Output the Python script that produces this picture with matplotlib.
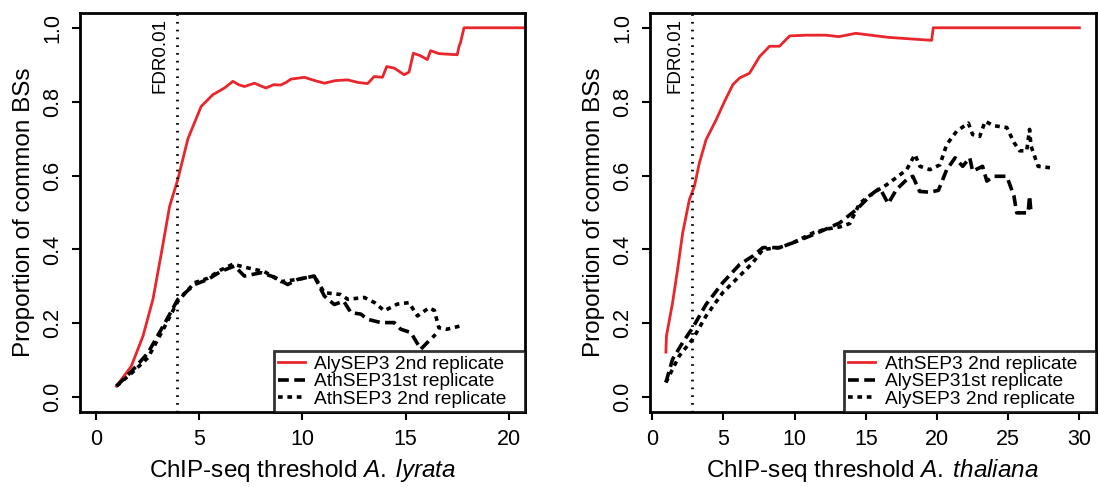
import numpy as np
import matplotlib
matplotlib.use("Agg")
import matplotlib.pyplot as plt

plt.rcParams['font.family'] = ['Liberation Sans', 'DejaVu Sans']
plt.rcParams['mathtext.fontset'] = 'custom'
plt.rcParams['mathtext.rm'] = 'Liberation Sans'
plt.rcParams['mathtext.it'] = 'Liberation Sans:italic'

# ---- left panel: threshold in A. lyrata
ly_red_x = [0.97, 1.69, 2.26, 2.74, 3.15, 3.55, 3.95, 4.44, 5.08, 5.65, 6.21, 6.62, 6.9, 7.18, 7.67,
            8.0, 8.23, 8.6, 8.94, 9.2, 9.44, 10.09, 10.6, 11.06, 11.6, 12.19, 12.7, 13.16, 13.48, 13.88,
            14.09, 14.45, 14.93, 15.17, 15.38, 15.7, 16.06, 16.22, 16.62, 17.51, 17.6, 17.67, 17.84, 21.0]
ly_red_y = [0.03, 0.084, 0.166, 0.265, 0.39, 0.517, 0.59, 0.70, 0.787, 0.819, 0.837, 0.855, 0.846, 0.841, 0.85,
            0.842, 0.837, 0.846, 0.845, 0.852, 0.861, 0.866, 0.857, 0.85, 0.857, 0.859, 0.852, 0.849, 0.868, 0.866,
            0.895, 0.891, 0.873, 0.88, 0.931, 0.925, 0.914, 0.938, 0.93, 0.927, 0.95, 0.96, 1.0, 1.0]

ly_rep1_x = [0.97, 1.7, 2.5, 3.31, 3.95, 4.76, 5.41, 6.05, 6.70, 7.18, 7.99, 8.64, 9.28, 9.77, 10.57,
             10.81, 11.06, 11.54, 12.0, 12.35, 12.83, 13.16, 13.8, 14.45, 14.77, 15.26, 15.74, 16.06, 16.46]
ly_rep1_y = [0.03, 0.07, 0.12, 0.20, 0.265, 0.305, 0.319, 0.341, 0.355, 0.328, 0.337, 0.325, 0.305, 0.319, 0.328,
             0.301, 0.274, 0.251, 0.26, 0.229, 0.225, 0.211, 0.202, 0.202, 0.184, 0.175, 0.13, 0.148, 0.17]

ly_rep2_x = [0.97, 1.7, 2.5, 3.3, 3.95, 4.76, 5.4, 6.05, 6.62, 7.35, 8.15, 8.96, 9.77, 10.57, 11.06,
             11.86, 12.2, 13.0, 13.5, 13.97, 14.6, 15.17, 15.58, 16.14, 16.4, 16.62, 17.0, 17.67]
ly_rep2_y = [0.03, 0.065, 0.107, 0.19, 0.26, 0.31, 0.322, 0.345, 0.36, 0.35, 0.34, 0.313, 0.319, 0.328, 0.283,
             0.278, 0.265, 0.27, 0.256, 0.234, 0.252, 0.256, 0.220, 0.242, 0.235, 0.188, 0.184, 0.193]

# ---- right panel: threshold in A. thaliana
th_red_x = [0.96, 1.0, 1.43, 1.78, 2.14, 2.61, 2.96, 3.31, 3.78, 4.49, 5.07, 5.66, 6.13, 6.83, 7.54,
            8.24, 8.94, 9.65, 10.8, 12.2, 13.1, 14.3, 16.6, 19.62, 19.74, 30.0]
th_red_y = [0.122, 0.166, 0.256, 0.346, 0.445, 0.535, 0.571, 0.634, 0.697, 0.751, 0.80, 0.846, 0.864, 0.877, 0.922,
            0.95, 0.95, 0.978, 0.98, 0.98, 0.976, 0.985, 0.974, 0.966, 1.0, 1.0]

th_rep1_x = [0.96, 1.43, 2.14, 2.84, 3.78, 4.95, 6.13, 7.06, 7.77, 8.94, 9.88, 11.06, 12.2, 13.17, 14.34,
             15.52, 15.99, 16.57, 17.15, 17.87, 18.3, 18.78, 19.5, 20.1, 20.68, 21.27, 21.8, 22.3, 22.5,
             23.2, 23.5, 23.97, 24.9, 25.4, 25.6, 26.4, 26.5, 26.6]
th_rep1_y = [0.04, 0.103, 0.148, 0.188, 0.251, 0.31, 0.359, 0.382, 0.405, 0.405, 0.418, 0.436, 0.455, 0.472, 0.508,
             0.553, 0.566, 0.524, 0.562, 0.589, 0.598, 0.557, 0.555, 0.56, 0.616, 0.648, 0.625, 0.648, 0.612,
             0.625, 0.585, 0.598, 0.598, 0.545, 0.499, 0.499, 0.545, 0.50]

th_rep2_x = [0.96, 1.9, 2.84, 3.78, 4.95, 6.13, 7.06, 7.77, 8.94, 9.88, 11.3, 12.2, 13.17, 13.87, 14.57,
             15.52, 16.46, 17.4, 17.87, 18.45, 18.8, 19.5, 20.2, 20.68, 21.38, 22.2, 22.5, 23.0, 23.38,
             23.97, 24.9, 25.4, 25.8, 26.3, 26.5, 26.6, 27.1, 28.2]
th_rep2_y = [0.04, 0.112, 0.157, 0.22, 0.283, 0.328, 0.364, 0.40, 0.405, 0.418, 0.445, 0.455, 0.461, 0.47, 0.525,
             0.553, 0.575, 0.602, 0.616, 0.657, 0.625, 0.616, 0.629, 0.684, 0.72, 0.742, 0.711, 0.706, 0.747,
             0.735, 0.73, 0.69, 0.667, 0.667, 0.725, 0.68, 0.625, 0.62]

fdr_lyrata = 3.9
fdr_thaliana = 2.8

red = '#E8262B'

fig = plt.figure(figsize=(10.99, 4.87), dpi=100)
ax1 = fig.add_axes([0.0728, 0.154, 0.4049, 0.8193])
ax2 = fig.add_axes([0.5914, 0.154, 0.4058, 0.8193])


def panel(ax, rx, ry, d1x, d1y, d2x, d2y, fdr, labels, xlab, xmax, xticks):
    ax.plot(rx, ry, color=red, lw=2.0, label=labels[0])
    ax.plot(d1x, d1y, color='black', lw=2.6, dashes=(3.0, 1.5), label=labels[1])
    ax.plot(d2x, d2y, color='black', lw=2.6, dashes=(1.3, 1.3), label=labels[2])
    ax.axvline(fdr, color='black', lw=2, dashes=(0.6, 2.2))
    ax.annotate('FDR0.01', xy=(fdr, 0.925), xytext=(-12, 0), textcoords='offset points',
                rotation=90, ha='center', va='center', fontsize=13.5)
    lo, hi = xmax
    pad = (hi - lo) * 0.04
    ax.set_xlim(lo - pad, hi + pad)
    ax.set_ylim(-0.04, 1.04)
    ax.set_xticks(xticks)
    ax.set_yticks([0.0, 0.2, 0.4, 0.6, 0.8, 1.0])
    ax.set_yticklabels(['0.0', '0.2', '0.4', '0.6', '0.8', '1.0'], rotation=90, va='center')
    ax.tick_params(length=6, width=1.5, labelsize=15.5, pad=6)
    for s in ax.spines.values():
        s.set_linewidth(2)
    ax.set_xlabel(xlab, fontsize=17.5, labelpad=5)
    ax.set_ylabel('Proportion of common BSs', fontsize=17.5, labelpad=5)
    leg = ax.legend(loc='lower left', bbox_to_anchor=(0.435, 0.0, 0.565, 0.16), mode='expand',
                    borderaxespad=0, fancybox=False, fontsize=13.8, labelspacing=0.0,
                    handlelength=1.4, handletextpad=0.5, borderpad=0.22)
    leg.get_frame().set_edgecolor('black')
    leg.get_frame().set_linewidth(2)


panel(ax1, ly_red_x, ly_red_y, ly_rep1_x, ly_rep1_y, ly_rep2_x, ly_rep2_y, fdr_lyrata,
      ['AlySEP3 2nd replicate', 'AthSEP31st replicate', 'AthSEP3 2nd replicate'],
      r'ChIP-seq threshold $\mathit{A.\;lyrata}$', (0, 20), [0, 5, 10, 15, 20])
panel(ax2, th_red_x, th_red_y, th_rep1_x, th_rep1_y, th_rep2_x, th_rep2_y, fdr_thaliana,
      ['AthSEP3 2nd replicate', 'AlySEP31st replicate', 'AlySEP3 2nd replicate'],
      r'ChIP-seq threshold $\mathit{A.\;thaliana}$', (1, 30), [0, 5, 10, 15, 20, 25, 30])

fig.savefig('out.png', dpi=100)
